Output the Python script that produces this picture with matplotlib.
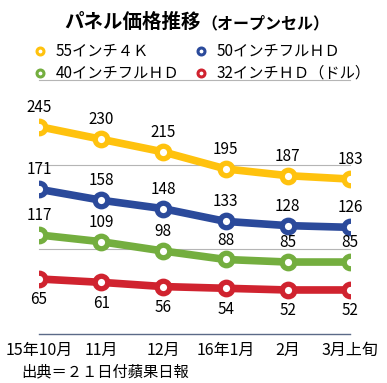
import matplotlib
matplotlib.use("Agg")
import matplotlib.pyplot as plt
from matplotlib.lines import Line2D

plt.rcParams['font.family'] = ['Noto Sans CJK JP', 'DejaVu Sans']

# データ（単位：ドル）
months = ['15年10月', '11月', '12月', '16年1月', '2月', '3月上旬']
s55_4k = [245, 230, 215, 195, 187, 183]
s50_fhd = [171, 158, 148, 133, 128, 126]
s40_fhd = [117, 109, 98, 88, 85, 85]
s32_hd = [65, 61, 56, 54, 52, 52]

names = ['55インチ４Ｋ', '50インチフルＨＤ', '40インチフルＨＤ', '32インチＨＤ（ドル）']
colores = ['#FFC20E', '#2B4A9B', '#74AE3F', '#D0232F']
series = [s55_4k, s50_fhd, s40_fhd, s32_hd]

W, H = 387, 383
fig = plt.figure(figsize=(W / 100, H / 100), dpi=100)
ax = fig.add_axes([39 / W, (H - 334) / H, (350 - 39) / W, (334 - 80) / H])

x = list(range(len(months)))
for vals, cor, nome in zip(series, colores, names):
    ax.plot(x, vals, color=cor, lw=5.5, marker='o', ms=9, mew=3.8,
            mfc='white', mec=cor, solid_capstyle='round', zorder=3)
    below = nome.startswith('32')
    for xi, v in zip(x, vals):
        ax.annotate(str(v), (xi, v), xytext=(0, -15 if below else 14),
                    textcoords='offset points', ha='center', va='center',
                    fontsize=11, color='black')

# linhas de grade
for g in [100, 200, 300]:
    ax.axhline(g, color='#b5b5b5', lw=0.8, clip_on=False, zorder=1)

ax.set_xlim(0, len(months) - 1)
ax.set_ylim(0, 300)
ax.set_xticks(x)
ax.set_xticklabels(months, fontsize=11.5)
ax.set_yticks([])
ax.tick_params(axis='x', length=0, pad=6)
for s in ['top', 'right', 'left']:
    ax.spines[s].set_visible(False)
ax.spines['bottom'].set_color('#5b6a88')
ax.spines['bottom'].set_linewidth(1)

# titulo
fig.text(64 / W, 1 - 22 / H, 'パネル価格推移', fontsize=14, fontweight='bold',
         ha='left', va='center')
fig.text(201 / W, 1 - 23 / H, '（オープンセル）', fontsize=11.5, fontweight='bold',
         ha='left', va='center')

# legenda manual
pos = [(40, 51), (201, 51), (40, 73), (201, 73)]
for (px, py), nome, cor in zip(pos, names, colores):
    fig.add_artist(Line2D([px / W], [1 - py / H], marker='o', ms=5, mew=2.2,
                          mfc='white', mec=cor, transform=fig.transFigure))
    fig.text((px + 16) / W, 1 - py / H, nome, fontsize=11, ha='left', va='center')

fig.text(21 / W, 1 - 372 / H, '出典＝２１日付蘋果日報', fontsize=11,
         ha='left', va='center')

fig.savefig('out.png', dpi=100)
